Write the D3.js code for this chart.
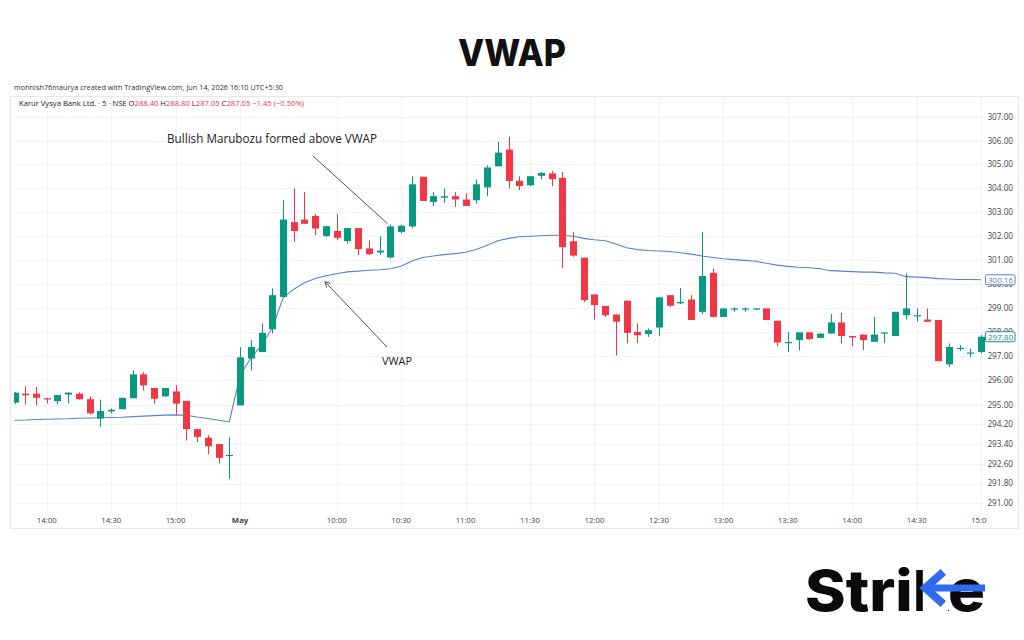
<!DOCTYPE html>
<html><head><meta charset="utf-8">
<script src="https://cdn.jsdelivr.net/npm/d3@7"></script>
<style>body{margin:0;background:#fff}svg{display:block}</style>
</head><body><svg id="c" width="1024" height="640"></svg>
<script>
// ---- categories (5-minute bars) ----
const day1Times = ["13:45","13:50","13:55","14:00","14:05","14:10","14:15","14:20","14:25","14:30","14:35","14:40","14:45","14:50","14:55","15:00","15:05","15:10","15:15","15:20","15:25"];
const day2Times = ["09:15","09:20","09:25","09:30","09:35","09:40","09:45","09:50","09:55",
 "10:00","10:05","10:10","10:15","10:20","10:25","10:30","10:35","10:40","10:45","10:50","10:55",
 "11:00","11:05","11:10","11:15","11:20","11:25","11:30","11:35","11:40","11:45","11:50","11:55",
 "12:00","12:05","12:10","12:15","12:20","12:25","12:30","12:35","12:40","12:45","12:50","12:55",
 "13:00","13:05","13:10","13:15","13:20","13:25","13:30","13:35","13:40","13:45","13:50","13:55",
 "14:00","14:05","14:10","14:15","14:20","14:25","14:30","14:35","14:40","14:45","14:50","14:55","15:00"];
const categories = day1Times.map(t => "Apr30 " + t).concat(day2Times.map(t => "May01 " + t));

// ---- OHLC series ----
const opens = [295.09,295.46,295.46,295.27,295.15,295.42,295.46,295.23,294.44,294.73,294.82,295.27,296.25,295.69,295.35,295.55,295.16,294.01,293.66,293.40,292.91,
 294.98,296.90,297.17,298.11,299.45,302.57,302.68,302.83,301.99,302.20,301.78,302.32,301.47,301.30,301.09,302.16,302.39,304.48,303.42,303.60,303.66,303.52,303.49,304.03,304.92,305.63,304.31,304.12,304.52,304.62,304.43,301.77,301.08,299.55,299.07,298.72,299.29,298.00,297.91,298.18,299.52,299.18,299.34,298.83,300.45,298.62,298.95,298.95,298.95,298.97,298.46,297.56,297.66,297.98,297.75,297.93,298.39,297.83,297.89,297.59,297.96,297.83,298.69,298.67,298.51,298.49,296.66,297.32,297.13,297.17];
const highs = [295.53,295.76,295.73,295.28,295.41,295.51,295.51,295.35,295.21,294.85,295.29,296.41,296.34,295.69,295.69,295.80,295.16,294.01,293.76,293.40,293.67,
 297.37,297.66,298.35,299.80,303.49,303.98,303.83,302.91,302.40,302.91,302.32,302.32,301.81,301.98,302.47,302.47,304.50,304.48,303.83,303.98,303.83,303.77,304.37,304.96,305.95,306.18,304.50,304.50,304.68,304.72,304.68,302.16,301.08,299.55,299.07,298.72,299.29,298.35,298.14,299.45,299.52,299.82,299.52,302.16,300.63,298.97,299.02,299.02,298.99,298.97,298.46,298.00,297.98,297.98,297.93,298.73,298.79,297.83,297.89,298.62,297.98,298.83,300.42,298.97,298.97,298.49,297.52,297.45,297.31,297.86];
const lows = [295.04,295.02,294.98,295.05,295.02,295.05,295.21,294.62,294.10,294.65,294.82,295.27,295.59,295.05,295.32,294.58,293.55,293.49,292.99,292.61,291.99,
 294.98,296.41,297.17,297.93,299.45,301.74,302.50,302.02,301.95,301.81,301.67,301.19,301.19,301.19,301.05,302.10,302.31,303.46,303.24,303.38,303.21,303.24,303.35,303.66,304.92,303.98,303.91,304.08,304.37,304.08,300.64,301.12,299.24,298.51,298.62,297.03,297.52,297.54,297.79,297.83,299.04,299.15,298.49,298.73,298.62,298.62,298.83,298.83,298.90,298.49,297.41,297.17,297.24,297.68,297.75,297.93,297.52,297.41,297.24,297.59,297.54,297.83,298.51,298.42,298.42,296.79,296.55,297.21,296.96,297.10];
const closes = [295.50,295.39,295.29,295.22,295.40,295.50,295.23,294.65,294.75,294.80,295.29,296.25,295.80,295.25,295.69,295.05,294.01,293.69,293.31,292.84,292.96,
 296.95,297.38,297.96,299.52,302.68,302.20,302.50,302.30,302.40,301.91,302.32,301.44,301.23,301.38,302.39,302.42,304.16,303.46,303.66,303.66,303.52,303.25,304.16,304.87,305.50,304.30,304.09,304.50,304.64,304.38,301.52,301.17,299.31,299.11,298.69,298.42,297.96,297.86,298.07,299.43,299.08,299.24,298.49,300.32,298.62,298.97,298.97,298.97,298.97,298.49,297.56,297.58,297.98,297.70,297.93,298.39,297.83,297.77,297.66,297.89,297.98,298.83,298.97,298.69,298.42,296.79,297.38,297.34,297.15,297.80];
const vwap = [294.37,294.38,294.40,294.41,294.42,294.43,294.45,294.46,294.47,294.48,294.49,294.52,294.54,294.56,294.58,294.59,294.57,294.50,294.44,294.37,294.30,
 296.21,296.91,297.45,298.15,299.40,299.77,300.04,300.21,300.33,300.41,300.49,300.52,300.56,300.58,300.62,300.72,300.94,301.09,301.15,301.21,301.25,301.31,301.42,301.60,301.79,301.89,301.96,301.98,302.00,302.02,302.02,301.98,301.89,301.83,301.79,301.65,301.50,301.42,301.38,301.36,301.34,301.29,301.23,301.15,301.09,301.04,301.00,300.97,300.93,300.85,300.77,300.72,300.68,300.66,300.62,300.54,300.52,300.50,300.48,300.48,300.45,300.43,300.29,300.27,300.25,300.21,300.19,300.17,300.17,300.16];

// ---- axis ticks ----
const timeTickCats = ["Apr30 14:00","Apr30 14:30","Apr30 15:00","May01 09:15","May01 10:00","May01 10:30","May01 11:00","May01 11:30","May01 12:00","May01 12:30","May01 13:00","May01 13:30","May01 14:00","May01 14:30","May01 15:00"];
const timeTickLabels = ["14:00","14:30","15:00","May","10:00","10:30","11:00","11:30","12:00","12:30","13:00","13:30","14:00","14:30","15:00"];
const priceTicks = [307,306,305,304,303,302,301,300,299,298,297,296,295,294.2,293.4,292.6,291.8,291];
const lastVwap = 300.16;
const lastClose = 297.80;

const svg = d3.select("#c");
const UP = "#089981", DOWN = "#f23645", VWAPC = "#5b7fdc";
const PL = 14, PR = 986, PT = 97, PB = 511;

const x = d3.scaleBand().domain(categories).range([9.13, 986.47]).padding(0);
const xc = c => x(c) + x.bandwidth() / 2;
const y = d3.scaleLog().domain([291, 307]).range([503.3, 117.3]);

// Title
svg.append("text").attr("x", 512).attr("y", 66).attr("text-anchor", "middle")
  .attr("font-family", "Inter, 'DejaVu Sans', sans-serif").attr("font-weight", 800)
  .attr("font-size", 37).attr("fill", "#111").attr("textLength", 108).attr("lengthAdjust", "spacingAndGlyphs").text("VWAP");

// Header line
svg.append("text").attr("x", 14).attr("y", 90).attr("font-family", "'Open Sans', sans-serif")
  .attr("font-size", 7.6).attr("fill", "#333").attr("textLength", 269).attr("lengthAdjust", "spacingAndGlyphs")
  .text("mohnish76maurya created with TradingView.com, Jun 14, 2026 16:10 UTC+5:30");

// Frame
svg.append("rect").attr("x", 10.5).attr("y", 96.5).attr("width", 1008).attr("height", 432)
  .attr("fill", "#fff").attr("stroke", "#e6e8ee").attr("stroke-width", 1);

// Gridlines
const grid = svg.append("g");
grid.selectAll("line.h").data(priceTicks).join("line")
  .attr("x1", PL).attr("x2", PR).attr("y1", d => Math.round(y(d)) + 0.5).attr("y2", d => Math.round(y(d)) + 0.5)
  .attr("stroke", "#f1f3f8");
grid.selectAll("line.v").data(timeTickCats).join("line")
  .attr("y1", PT).attr("y2", PB).attr("x1", d => Math.round(xc(d)) + 0.5).attr("x2", d => Math.round(xc(d)) + 0.5)
  .attr("stroke", "#f1f3f8");

// Legend line inside pane
const leg = svg.append("text").attr("x", 19).attr("y", 106).attr("font-family", "'Open Sans', sans-serif")
  .attr("font-size", 7.4).attr("fill", "#222").attr("textLength", 285).attr("lengthAdjust", "spacingAndGlyphs");
[["Karur Vysya Bank Ltd. · 5 · NSE  ", "#222"], ["O", "#222"], ["288.40", DOWN], [" H", "#222"], ["288.80", DOWN],
 [" L", "#222"], ["287.05", DOWN], [" C", "#222"], ["287.05", DOWN], [" −1.45 (−0.50%)", DOWN]]
  .forEach(([t, c]) => leg.append("tspan").attr("fill", c).text(t));

// Clip for plot
const defs = svg.append("defs");
defs.append("clipPath").attr("id", "plot").append("rect").attr("x", PL).attr("y", PT).attr("width", PR - PL).attr("height", PB - PT);
defs.append("clipPath").attr("id", "taxis").append("rect").attr("x", PL).attr("y", 505).attr("width", PR - PL + 1).attr("height", 25);

const plot = svg.append("g").attr("clip-path", "url(#plot)");

// VWAP line
const line = d3.line().x(d => xc(d.c)).y(d => y(d.v));
const pts = categories.map((c, i) => ({c, v: vwap[i]}));
plot.append("path").attr("d", line(pts)).attr("fill", "none").attr("stroke", VWAPC).attr("stroke-width", 1.1);

// Candles
const bars = categories.map((c, i) => ({c, o: opens[i], h: highs[i], l: lows[i], cl: closes[i]}));
const bw = Math.round(x.bandwidth() * 0.68);
const cg = plot.selectAll("g.candle").data(bars).join("g");
cg.append("line").attr("x1", d => Math.round(xc(d.c)) + 0.5).attr("x2", d => Math.round(xc(d.c)) + 0.5)
  .attr("y1", d => y(d.h)).attr("y2", d => y(d.l))
  .attr("stroke", d => d.cl >= d.o ? UP : DOWN).attr("stroke-width", 1);
cg.append("rect").attr("x", d => Math.round(xc(d.c)) + 0.5 - bw / 2).attr("width", bw)
  .attr("y", d => y(Math.max(d.o, d.cl)))
  .attr("height", d => Math.max(1.2, y(Math.min(d.o, d.cl)) - y(Math.max(d.o, d.cl))))
  .attr("fill", d => d.cl >= d.o ? UP : DOWN);

// Price axis
const yAxis = svg.append("g").attr("font-family", "'Open Sans', sans-serif").attr("font-size", 8.2).attr("fill", "#444");
yAxis.selectAll("text").data(priceTicks).join("text")
  .attr("x", 1013).attr("y", d => y(d)).attr("dy", "0.35em").attr("text-anchor", "end").text(d => d3.format(".2f")(d));

// Time axis
const tAxis = svg.append("g").attr("clip-path", "url(#taxis)").attr("font-family", "'Open Sans', sans-serif")
  .attr("font-size", 7.8).attr("fill", "#444");
tAxis.selectAll("text").data(timeTickCats).join("text")
  .attr("x", d => xc(d)).attr("y", 523).attr("text-anchor", "middle")
  .attr("font-weight", (d, i) => timeTickLabels[i] === "May" ? 700 : 400)
  .text((d, i) => timeTickLabels[i]);

// Last value labels
function tag(v, color) {
  const g = svg.append("g");
  g.append("rect").attr("x", 985.5).attr("y", y(v) - 5).attr("width", 29.5).attr("height", 10).attr("rx", 1.5)
    .attr("fill", "#fff").attr("stroke", color).attr("stroke-width", 1);
  g.append("text").attr("x", 1000.5).attr("y", y(v)).attr("dy", "0.35em").attr("text-anchor", "middle")
    .attr("font-family", "'Open Sans', sans-serif").attr("font-size", 8).attr("fill", color).text(d3.format(".2f")(v));
}
tag(lastVwap, VWAPC);
tag(lastClose, UP);

// Annotations
const ann = svg.append("g").attr("font-family", "'Open Sans', sans-serif").attr("fill", "#222");
ann.append("text").attr("x", 167).attr("y", 143).attr("font-size", 12.5).attr("textLength", 210)
  .attr("lengthAdjust", "spacingAndGlyphs").text("Bullish Marubozu formed above VWAP");
const cM = categories[35];
ann.append("line").attr("x1", 313).attr("y1", 156).attr("x2", xc(cM) - 3).attr("y2", y(highs[35]) - 1)
  .attr("stroke", "#555").attr("stroke-width", 1);
ann.append("text").attr("x", 382).attr("y", 365).attr("font-size", 11.5).attr("textLength", 30)
  .attr("lengthAdjust", "spacingAndGlyphs").text("VWAP");
const cV = categories[29];
const tipX = xc(cV) - 1, tipY = y(vwap[29]) + 6;
ann.append("line").attr("x1", 387).attr("y1", 347).attr("x2", tipX).attr("y2", tipY).attr("stroke", "#555").attr("stroke-width", 1);
const ang = Math.atan2(347 - tipY, 387 - tipX);
const ah = 6, aw = 0.5;
ann.append("path").attr("d", `M${tipX + ah * Math.cos(ang - aw)},${tipY + ah * Math.sin(ang - aw)} L${tipX},${tipY} L${tipX + ah * Math.cos(ang + aw)},${tipY + ah * Math.sin(ang + aw)}`)
  .attr("fill", "none").attr("stroke", "#555").attr("stroke-width", 1);

// Logo
const logo = svg.append("text").attr("x", 805).attr("y", 611).attr("font-family", "Inter, 'DejaVu Sans', sans-serif")
  .attr("font-weight", 800).attr("font-size", 57).attr("fill", "#0a0a0a").attr("textLength", 180)
  .attr("lengthAdjust", "spacingAndGlyphs").text("Strike");
const kb = logo.node().getExtentOfChar(4), eb = logo.node().getExtentOfChar(5);
const stemW = 9.5;
const midY = 588;
svg.append("rect").attr("x", kb.x + stemW + 0.5).attr("y", 568).attr("width", eb.x - (kb.x + stemW) - 0.5).attr("height", 45).attr("fill", "#fff");
const ax0 = kb.x + stemW + 1;
svg.append("path").attr("d", `M${ax0 + 20},${midY - 16} L${ax0 + 2},${midY} L${ax0 + 20},${midY + 16}`)
  .attr("fill", "none").attr("stroke", "#2f6bf0").attr("stroke-width", 8).attr("stroke-linejoin", "miter");
svg.append("rect").attr("x", ax0 + 2).attr("y", midY - 3.5).attr("width", eb.x + eb.width - ax0 - 2).attr("height", 7).attr("fill", "#2f6bf0");
</script></body></html>
